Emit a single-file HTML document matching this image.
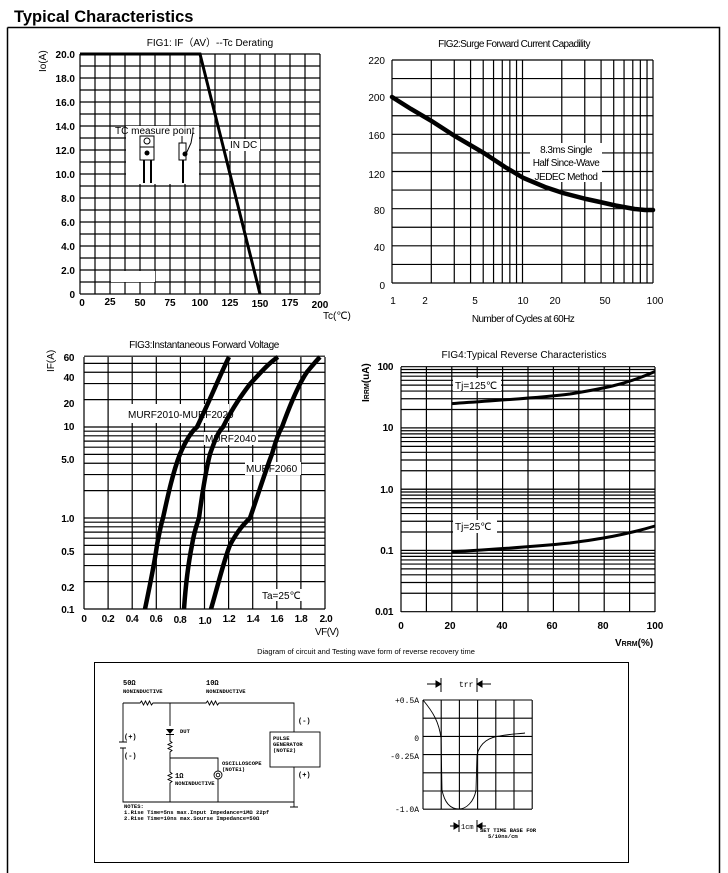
<!DOCTYPE html>
<html><head><meta charset="utf-8"><style>
html,body{margin:0;padding:0;background:#fff;}
svg{display:block;font-family:"Liberation Sans",Arial,sans-serif;}
.t{font-size:10px;font-weight:bold;}
.n{font-size:10px;}
.s{font-size:5.5px;font-weight:bold;font-family:"Liberation Mono",monospace;}
</style></head><body>
<svg id="s" width="728" height="873" viewBox="0 0 728 873" xmlns="http://www.w3.org/2000/svg">
<rect width="728" height="873" fill="#fff"/>
<text x="14" y="22" font-size="16.5" font-weight="bold">Typical Characteristics</text>
<path d="M7.5 27.5H719.5V873M7.5 27.5V873" fill="none" stroke="#000" stroke-width="1.5"/>
<g id="grids" stroke="#000" stroke-width="1.2" fill="none"></g>

<!-- FIG1 masks & labels -->
<rect x="126" y="126" width="73" height="58" fill="#fff"/>
<rect x="111" y="271" width="44" height="11" fill="#fff"/>
<rect x="228" y="139" width="32" height="12" fill="#fff"/>
<polyline points="80,54 200,54 260,294" fill="none" stroke="#000" stroke-width="3"/>
<text x="210" y="46" class="n" text-anchor="middle">FIG1: IF（AV）--Tc  Derating</text>
<text x="115" y="134" class="n">TC measure point</text>
<text x="230" y="148" class="n">IN DC</text>
<g stroke="#000" fill="none" stroke-width="1">
<rect x="140" y="136" width="14" height="24"/><line x1="140" y1="147" x2="154" y2="147"/><circle cx="147" cy="141" r="3"/>
<line x1="144" y1="160" x2="144" y2="183" stroke-width="2"/><line x1="151" y1="160" x2="151" y2="183" stroke-width="2"/>
<rect x="179" y="143" width="7" height="17"/><line x1="182" y1="136" x2="182" y2="143"/><line x1="183" y1="160" x2="183" y2="183" stroke-width="2"/>
<path d="M186 154 L191 143 L193 132"/>
</g>
<circle cx="147" cy="153" r="2.5"/><circle cx="185" cy="154" r="2.5"/>
<g class="t" text-anchor="end">
<text x="75" y="58">20.0</text><text x="75" y="82">18.0</text><text x="75" y="106">16.0</text><text x="75" y="130">14.0</text><text x="75" y="154">12.0</text><text x="75" y="178">10.0</text><text x="75" y="202">8.0</text><text x="75" y="226">6.0</text><text x="75" y="250">4.0</text><text x="75" y="274">2.0</text><text x="75" y="298">0</text>
</g>
<g class="t" text-anchor="middle">
<text x="82" y="306">0</text><text x="110" y="305">25</text><text x="140" y="306">50</text><text x="170" y="306">75</text><text x="200" y="306">100</text><text x="230" y="306">125</text><text x="260" y="307">150</text><text x="290" y="306">175</text><text x="320" y="308">200</text>
</g>
<text x="323" y="319" class="n">Tc(℃)</text>
<text transform="translate(46,72) rotate(-90)" class="n">Io(A)</text>

<!-- FIG2 -->
<rect x="530" y="143" width="72" height="39" fill="#fff"/>
<polyline fill="none" stroke="#000" stroke-width="4.5" stroke-linecap="round" points="392,97 411,109 431.6,121 454.7,136 483.9,153 505,167 523.5,178 545,187 563,193 586.2,199 600,202 615.4,205.5 634.6,209 645,210 653,210"/>
<text x="514" y="47" class="n" text-anchor="middle" letter-spacing="-0.6">FIG2:Surge Forward Current Capadility</text>
<g class="n" text-anchor="middle" letter-spacing="-0.5">
<text x="566" y="153">8.3ms Single</text><text x="566" y="166">Half Since-Wave</text><text x="566" y="180">JEDEC Method</text>
</g>
<g class="n" text-anchor="end">
<text x="385" y="64">220</text><text x="385" y="101">200</text><text x="385" y="139">160</text><text x="385" y="178">120</text><text x="385" y="214">80</text><text x="385" y="251">40</text><text x="385" y="289">0</text>
</g>
<g class="n" text-anchor="middle">
<text x="393" y="304">1</text><text x="425" y="304">2</text><text x="475" y="304">5</text><text x="523" y="304">10</text><text x="555" y="304">20</text><text x="605" y="304">50</text><text x="655" y="304">100</text>
</g>
<text x="523" y="322" class="n" text-anchor="middle" letter-spacing="-0.6">Number of Cycles at 60Hz</text>

<!-- FIG3 -->
<rect x="109" y="404" width="120" height="19" fill="#fff"/>
<rect x="204" y="432" width="54" height="13" fill="#fff"/>
<rect x="245" y="462" width="56" height="13" fill="#fff"/>
<rect x="260" y="589" width="42" height="12" fill="#fff"/>
<g fill="none" stroke="#000" stroke-width="4.5">
<path d="M145 609 C150 585,155 560,157 545 C160 530,161 524,163 518 C168 495,173 472,180 454 C186 440,191 432,197 427 C210 400,220 375,229 357"/>
<path d="M184 609 C186 580,189 560,192 545 C194 532,197 524,199 518 C202 495,206 470,210 454 C215 440,218 432,223 427 C234 405,244 392,250 384 C261 372,270 362,278 357"/>
<path d="M211 609 C218 585,224 560,230 545 C238 530,244 524,250 518 C258 495,265 472,272 454 C276 440,279 432,282 427 C290 405,298 385,307 372 C312 366,316 361,320 357"/>
</g>
<text x="204" y="348" class="n" text-anchor="middle" letter-spacing="-0.4">FIG3:Instantaneous Forward Voltage</text>
<text x="128" y="418" class="n">MURF2010-MURF2020</text>
<text x="205" y="442" class="n">MURF2040</text>
<text x="246" y="472" class="n">MURF2060</text>
<text x="262" y="599" class="n">Ta=25℃</text>
<g class="t" text-anchor="end" letter-spacing="-0.4">
<text x="74" y="361">60</text><text x="74" y="381">40</text><text x="74" y="407">20</text><text x="74" y="430">10</text><text x="74" y="463">5.0</text><text x="74" y="522">1.0</text><text x="74" y="555">0.5</text><text x="74" y="591">0.2</text><text x="74" y="613">0.1</text>
</g>
<g class="t" text-anchor="middle" letter-spacing="-0.4">
<text x="84" y="622">0</text><text x="108" y="622">0.2</text><text x="132" y="622">0.4</text><text x="156" y="622">0.6</text><text x="180" y="623">0.8</text><text x="205" y="624">1.0</text><text x="229" y="622">1.2</text><text x="253" y="622">1.4</text><text x="277" y="622">1.6</text><text x="301" y="622">1.8</text><text x="326" y="622">2.0</text>
</g>
<text x="315" y="635" class="n" letter-spacing="-0.5">VF(V)</text>
<text transform="translate(54,372) rotate(-90)" class="n">IF(A)</text>

<!-- FIG4 -->
<rect x="453" y="378" width="48" height="13" fill="#fff"/>
<rect x="453" y="520" width="44" height="13" fill="#fff"/>
<g fill="none" stroke="#000" stroke-width="3">
<path d="M452 403.6 C500 400,540 398,570 394 C600 389,625 385,655 371.5"/>
<path d="M452 551.8 C500 549,540 546,570 543 C600 539,625 535,655 526"/>
</g>
<text x="524" y="358" class="n" text-anchor="middle">FIG4:Typical Reverse Characteristics</text>
<text x="455" y="389" class="n">Tj=125℃</text>
<text x="455" y="530" class="n">Tj=25℃</text>
<g class="t" text-anchor="end" letter-spacing="-0.4">
<text x="393" y="370">100</text><text x="393" y="431">10</text><text x="393" y="493">1.0</text><text x="393" y="554">0.1</text><text x="393" y="615">0.01</text>
</g>
<g class="t" text-anchor="middle">
<text x="401" y="629">0</text><text x="450" y="629">20</text><text x="502" y="629">40</text><text x="552" y="629">60</text><text x="603" y="629">80</text><text x="655" y="629">100</text>
</g>
<text x="615" y="646" class="t">V<tspan font-size="7">RRM</tspan>(%)</text>
<text transform="translate(369,402) rotate(-90)" class="t">I<tspan font-size="7">RRM</tspan>(uA)</text>

<!-- Diagram -->
<text x="366" y="654" font-size="7.5" text-anchor="middle">Diagram of circuit and Testing wave form of reverse recovery time</text>
<rect x="94.5" y="662.5" width="534" height="200" fill="none" stroke="#000" stroke-width="1"/>
<g fill="none" stroke="#000" stroke-width="0.9">
<path d="M123 703H140l1.5-2 2 4 2-4 2 4 2-4 2 4 1.5-2H206l1.5-2 2 4 2-4 2 4 2-4 2 4 1.5-2H294V732"/>
<path d="M123 703V742M123 748V802H294V767M294 802V807M290 807H298"/>
<path d="M119 742H127M120 748H126"/>
<path d="M170 703V726M170 734V741l2 1.5-4 2 4 2-4 2 4 2-2 1.5V772l2 1.5-4 2 4 2-4 2 4 2-2 1.5V802"/>
<path d="M170 758H218V771M218 779V802"/>
<circle cx="218" cy="775" r="4"/><circle cx="218" cy="775" r="1.8"/>
<rect x="270" y="732" width="50" height="35"/>
</g>
<path d="M166 729H174L170 734Z"/><line x1="166" y1="734.5" x2="174" y2="734.5" stroke="#000"/>
<g class="s">
<text x="123" y="685" font-size="7">50Ω</text><text x="123" y="693">NONINDUCTIVE</text>
<text x="206" y="685" font-size="7">10Ω</text><text x="206" y="693">NONINDUCTIVE</text>
<text x="180" y="733">DUT</text>
<text x="124" y="739" font-size="7">(+)</text><text x="124" y="758" font-size="7">(-)</text>
<text x="175" y="778" font-size="7">1Ω</text><text x="175" y="785">NONINDUCTIVE</text>
<text x="222" y="765">OSCILLOSCOPE</text><text x="222" y="771">(NOTE1)</text>
<text x="273" y="740">PULSE</text><text x="273" y="746">GENERATOR</text><text x="273" y="752">(NOTE2)</text>
<text x="298" y="723" font-size="7">(-)</text><text x="298" y="777" font-size="7">(+)</text>
<text x="124" y="808">NOTES:</text>
<text x="124" y="814">1.Rise Time=5ns max.Input Impedance=1MΩ 22pf</text>
<text x="124" y="820">2.Rise Time=10ns max.Sourse Impedance=50Ω</text>
</g>
<g id="wg" stroke="#000" stroke-width="1.1" fill="none"></g>
<path d="M423 700 C433 712,439 722,441 738 L442 790 C445 805,452 809,459 809 C466 809,474 802,476 790 L477 755 C480 742,490 737,500 736 C510 734,518 734,525 733" fill="none" stroke="#000" stroke-width="0.9"/>
<g font-size="8" font-family="Liberation Mono,monospace" text-anchor="end">
<text x="419" y="703">+0.5A</text><text x="419" y="741">0</text><text x="419" y="759">-0.25A</text><text x="419" y="812">-1.0A</text>
</g>
<g stroke="#000" fill="#000" stroke-width="1">
<line x1="427" y1="684" x2="441" y2="684"/><path d="M441 684l-5-3v6z"/><line x1="441" y1="678" x2="441" y2="692"/>
<line x1="477" y1="684" x2="491" y2="684"/><path d="M477 684l5-3v6z"/><line x1="477" y1="678" x2="477" y2="692"/>
<line x1="450" y1="826" x2="459" y2="826"/><path d="M459 826l-5-3v6z"/><line x1="459" y1="820" x2="459" y2="832"/>
<line x1="477" y1="826" x2="486" y2="826"/><path d="M477 826l5-3v6z"/><line x1="477" y1="820" x2="477" y2="832"/>
</g>
<text x="459" y="687" font-size="8" font-family="Liberation Mono,monospace">trr</text>
<text x="461" y="829" font-size="7" font-family="Liberation Mono,monospace">1cm</text>
<text x="480" y="832" class="s">SET TIME BASE FOR</text>
<text x="488" y="838" class="s">5/10ns/cm</text>
</svg>
<script>
(function(){
var g=document.getElementById('grids'),NS='http://www.w3.org/2000/svg';
function L(x1,y1,x2,y2,w,par){var l=document.createElementNS(NS,'line');l.setAttribute('x1',x1);l.setAttribute('y1',y1);l.setAttribute('x2',x2);l.setAttribute('y2',y2);if(w)l.setAttribute('stroke-width',w);(par||g).appendChild(l);}
var i;
for(i=0;i<=16;i++)L(80+15*i,54,80+15*i,294);
for(i=0;i<=20;i++)L(80,54+12*i,320,54+12*i);
for(i=0;i<=12;i++)L(392,60+223*i/12,653,60+223*i/12);
var ns=[1,2,3,4,5,6,7,8,9,10,20,30,40,50,60,70,80,90,100];
ns.forEach(function(n){var x=392+130.5*Math.log10(n);L(x,60,x,283);});
for(i=0;i<=10;i++)L(84+24.1*i,357,84+24.1*i,609);
var vs=[];for(var d=0.1;d<2;d*=10)for(i=1;i<=9;i++)vs.push(d*i);vs.push(10,20,30,40,50,60);
vs.forEach(function(v){var y=609-91*Math.log10(v/0.1);L(84,y,325,y);});
for(i=0;i<=10;i++)L(401+25.4*i,367,401+25.4*i,612);
[0.01,0.1,1,10].forEach(function(d){for(i=1;i<=10;i++){var y=611.7-61.25*(Math.log10(d*i)+2);L(401,y,655,y);}});
var wg=document.getElementById('wg');
for(i=0;i<=6;i++){L(423+18.2*i,700,423+18.2*i,809,null,wg);L(423,700+18.2*i,532,700+18.2*i,null,wg);}
})();
</script>
</body></html>
